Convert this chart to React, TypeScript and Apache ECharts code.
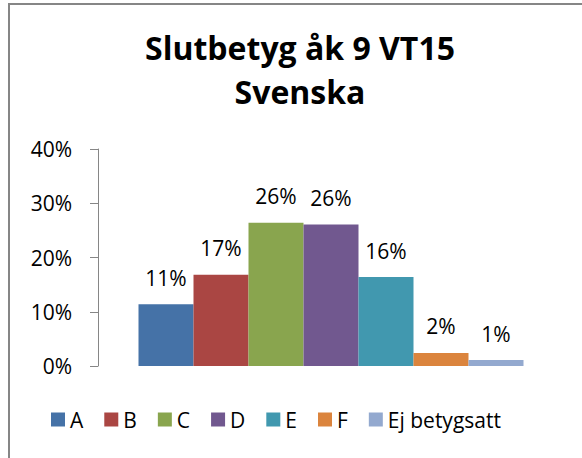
import React, { useEffect, useRef } from "react";
import * as echarts from "echarts";

const titleLines = ["Slutbetyg åk 9 VT15", "Svenska"];
const categories = ["A", "B", "C", "D", "E", "F", "Ej betygsatt"];
const values = [0.114, 0.168, 0.264, 0.261, 0.164, 0.024, 0.011];
const colors = ["#4572A7", "#AA4643", "#89A54E", "#71588F", "#4198AF", "#DB843D", "#93A9CF"];
const yTicks = { min: 0, max: 0.4, interval: 0.1 };

const FONT = "'Open Sans', 'Noto Sans', sans-serif";

export default function App() {
  const ref = useRef<HTMLDivElement>(null);
  useEffect(() => {
    if (!ref.current) return;
    const chart = echarts.init(ref.current, undefined, { renderer: "svg" });
    const pct = (v: number) => Math.round(v * 100) + "%";
    chart.setOption({
      animation: false,
      backgroundColor: "#ffffff",
      textStyle: { fontFamily: FONT },
      graphic: [
        {
          type: "rect",
          shape: { x: 9, y: 4, width: 620, height: 500 },
          style: { fill: "none", stroke: "#868686", lineWidth: 2 },
          silent: true,
        },
        {
          type: "text",
          x: 300,
          y: 47,
          style: {
            text: titleLines[0],
            fontFamily: FONT,
            fontWeight: "bold",
            fontSize: 32,
            fill: "#000",
            align: "center",
            verticalAlign: "middle",
          },
        },
        {
          type: "text",
          x: 300,
          y: 91,
          style: {
            text: titleLines[1],
            fontFamily: FONT,
            fontWeight: "bold",
            fontSize: 32,
            fill: "#000",
            align: "center",
            verticalAlign: "middle",
          },
        },
      ],
      legend: {
        data: categories,
        left: 51,
        top: 409,
        padding: 0,
        itemWidth: 14,
        itemHeight: 14,
        itemGap: 21,
        icon: "rect",
        textStyle: { fontFamily: FONT, fontSize: 21, color: "#000" },
      },
      grid: { left: 98, right: 18, top: 149, bottom: 92, containLabel: false },
      xAxis: {
        type: "category",
        data: [""],
        axisLine: { show: false },
        axisTick: { show: false },
        axisLabel: { show: false },
      },
      yAxis: {
        type: "value",
        min: yTicks.min,
        max: yTicks.max,
        interval: yTicks.interval,
        axisLine: { show: true, lineStyle: { color: "#868686", width: 1 } },
        axisTick: { show: true, length: 8, lineStyle: { color: "#868686", width: 1 } },
        splitLine: { show: false },
        axisLabel: {
          formatter: (v: number) => pct(v),
          fontFamily: FONT,
          fontSize: 21,
          color: "#000",
          margin: 26,
        },
      },
      series: categories.map((name, i) => ({
        name,
        type: "bar",
        data: [values[i]],
        barWidth: 55,
        barGap: "0%",
        itemStyle: { color: colors[i] },
        label: {
          show: true,
          position: "top",
          distance: 16,
          formatter: (p: any) => pct(p.value),
          fontFamily: FONT,
          fontSize: 21,
          color: "#000",
        },
      })),
    });
    return () => chart.dispose();
  }, []);
  return (
    <div
      ref={ref}
      style={{ position: "absolute", left: 0, top: 0, width: 582, height: 458 }}
    />
  );
}
